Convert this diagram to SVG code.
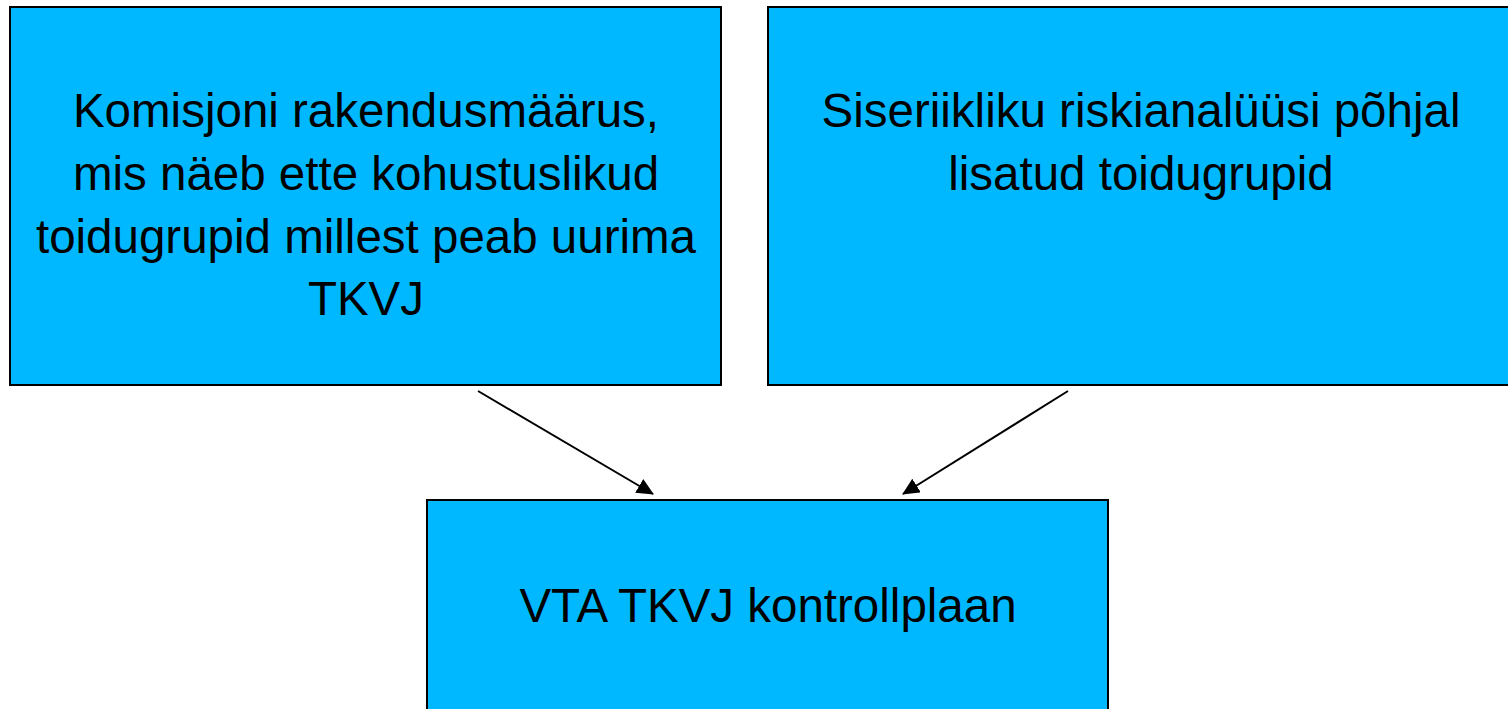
<svg xmlns="http://www.w3.org/2000/svg" width="1508" height="709" viewBox="0 0 1508 709">
<defs>
<style>
.box{fill:#00B8FF;stroke:#000;stroke-width:2}
.t{font-family:"Liberation Sans",Arial,sans-serif;font-size:47.5px;fill:#000;text-anchor:middle}
.c{stroke:#000;stroke-width:2;fill:none;marker-end:url(#ah)}
</style>
<marker id="ah" markerWidth="17" markerHeight="16" refX="16" refY="8" orient="auto" markerUnits="userSpaceOnUse" viewBox="0 0 17 16">
<path d="M0,0 L17,8 L0,16 Z" fill="#000"/>
</marker>
</defs>
<rect width="1508" height="709" fill="#fff"/>
<g id="node1">
<rect class="box" x="10" y="7" width="711" height="378"/>
<text class="t" x="366" y="127">Komisjoni rakendusmäärus,</text>
<text class="t" x="366" y="190">mis näeb ette kohustuslikud</text>
<text class="t" x="366" y="253">toidugrupid millest peab uurima</text>
<text class="t" x="366" y="315">TKVJ</text>
</g>
<g id="node2">
<rect class="box" x="768" y="7" width="750" height="378"/>
<text class="t" x="1141" y="127">Siseriikliku riskianalüüsi põhjal</text>
<text class="t" x="1141" y="190">lisatud toidugrupid</text>
</g>
<g id="node3">
<rect class="box" x="427" y="500" width="681" height="220"/>
<text class="t" x="768" y="622">VTA TKVJ kontrollplaan</text>
</g>
<g id="connectors">
<line class="c" x1="478" y1="391" x2="653" y2="494"/>
<line class="c" x1="1068" y1="391" x2="903" y2="494"/>
</g>
</svg>
